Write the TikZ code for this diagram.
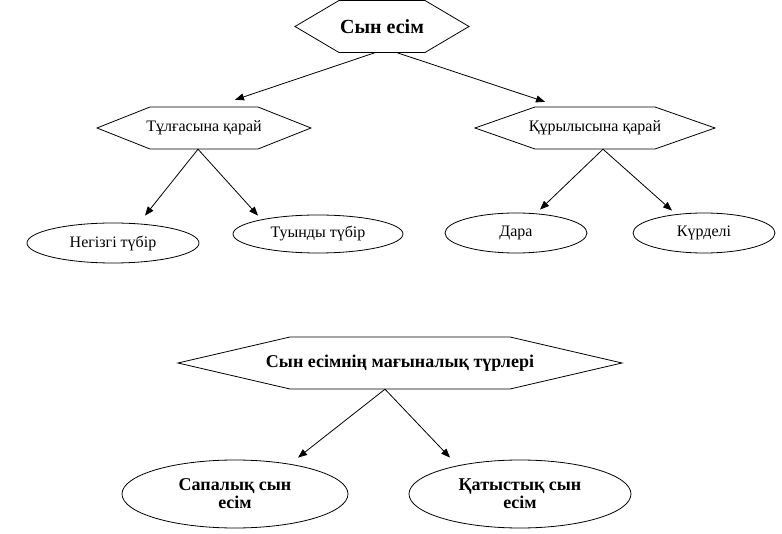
\documentclass[tikz,border=0pt]{standalone}
\usepackage{fontspec}
\setmainfont{Liberation Serif}
\usetikzlibrary{arrows.meta,shapes.geometric}

\tikzset{
  hexnode/.style={inner sep=0pt, minimum height=#1},
  oval/.style={draw, ellipse, inner sep=0pt, line width=0.8pt},
  arr/.style={-{Triangle[length=9pt,width=7pt]}, line width=0.8pt},
  big/.style={font=\fontsize{20}{24}\selectfont\bfseries},
  mid/.style={font=\fontsize{18}{18}\selectfont\bfseries, align=center},
  small/.style={font=\fontsize{16}{19}\selectfont},
}
% hexagon round a node: name, half width, half height, point length
\newcommand{\hexaround}[4]{%
  \draw[line width=0.8pt] ([shift={(-#2,#3)}]#1.center) -- ([shift={(#2,#3)}]#1.center)
    -- ([shift={(#2+#4,0pt)}]#1.center) -- ([shift={(#2,-#3)}]#1.center)
    -- ([shift={(-#2,-#3)}]#1.center) -- ([shift={(-#2-#4,0pt)}]#1.center) -- cycle;}

\begin{document}
\begin{tikzpicture}[x=1pt,y=-1pt]
    \useasboundingbox (0,0) rectangle (782,534);
    %\draw[gray, dashed] (0,0) grid[step=50] (782,534);

    \node[hexnode=52pt, big] (sin) at (382,26.5) {Сын есім};
    \hexaround{sin}{43pt}{26pt}{44pt}

    \node[hexnode=42pt, small] (tul) at (204,128) {Тұлғасына қарай};
    \hexaround{tul}{54pt}{21pt}{53pt}
    \node[hexnode=42pt, small] (kur) at (595,128) {Құрылысына қарай};
    \hexaround{kur}{60pt}{21pt}{60pt}

    \draw[arr] ([xshift=-7pt]sin.south) -- ([shift={(31pt,7pt)}]tul.north);
    \draw[arr] ([xshift=15pt]sin.south) -- ([shift={(-50pt,5pt)}]kur.north);

    \node[oval, small, minimum width=172pt, minimum height=40pt] (neg) at (113,243) {Негізгі түбір};
    \node[oval, small, minimum width=170pt, minimum height=38pt] (tuy) at (318,234) {Туынды түбір};
    \node[oval, small, minimum width=142pt, minimum height=40pt] (dara) at (516,233) {Дара};
    \node[oval, small, minimum width=142pt, minimum height=40pt] (kurd) at (704,233) {Күрделі};

    \draw[arr] ([xshift=-6pt]tul.south) -- ([shift={(32pt,7pt)}]neg.north);
    \draw[arr] ([xshift=-6pt]tul.south) -- ([shift={(-60pt,-1pt)}]tuy.north);
    \draw[arr] ([xshift=8pt]kur.south) -- ([shift={(24pt,3pt)}]dara.north);
    \draw[arr] ([xshift=8pt]kur.south) -- ([shift={(-32pt,2pt)}]kurd.north);

    \node[hexnode=52pt, mid] (mag) at (400,363) {Сын есімнің мағыналық түрлері};
    \hexaround{mag}{110pt}{26pt}{112pt}

    \node[oval, mid, minimum width=226pt, minimum height=68pt] (sapa) at (235,494) {Сапалық сын\\есім};
    \node[oval, mid, minimum width=222pt, minimum height=68pt] (katy) at (520,494) {Қатыстық сын\\есім};

    \draw[arr] ([xshift=-15pt]mag.south) -- ([shift={(63pt,2pt)}]sapa.north);
    \draw[arr] ([xshift=-15pt]mag.south) -- ([shift={(-70pt,2pt)}]katy.north);
\end{tikzpicture}
\end{document}
